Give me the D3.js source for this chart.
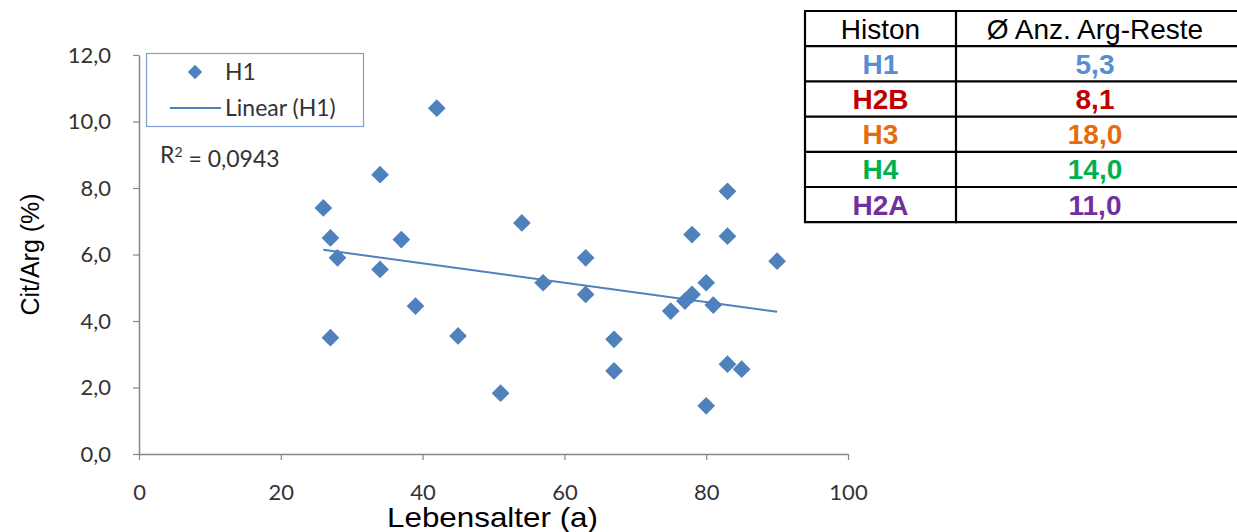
<!DOCTYPE html>
<html>
<head>
<meta charset="utf-8">
<script src="https://cdn.jsdelivr.net/npm/d3@7"></script>
<style>
	body { margin: 0; background: #fff; }
	svg { display: block; }
</style>
</head>
<body>
<div id="chart"></div>
<script>
// H1 scatter: age (a) vs Cit/Arg (%)
let ages = [26, 27, 28, 27, 34, 34, 37, 39, 42, 45, 51, 54, 57, 63, 63, 67, 67, 75, 77, 78, 78, 80, 81, 83, 83, 83, 85, 80, 90];
let citArg = [7.4, 6.5, 5.9, 3.5, 8.4, 5.55, 6.45, 4.45, 10.4, 3.55, 1.83, 6.95, 5.15, 5.9, 4.8, 3.45, 2.5, 4.3, 4.6, 4.8, 6.6, 5.15, 4.48, 7.9, 6.55, 2.7, 2.55, 1.45, 5.8];
let xTicks = [0, 20, 40, 60, 80, 100];
let yTicks = [0, 2, 4, 6, 8, 10, 12];
let rSquaredLabel = "0,0943";

// table
let tableHeader = ["Histon", "Ø Anz. Arg-Reste"];
let histones = ["H1", "H2B", "H3", "H4", "H2A"];
let argCounts = ["5,3", "8,1", "18,0", "14,0", "11,0"];
let histColors = ["#558ED5", "#C00000", "#E46C0A", "#00B050", "#7030A0"];

const width = 1237, height = 532;
const blue = "#4F81BD";
const axisGray = "#868686";
const chartFont = "Lato, 'Open Sans', sans-serif";
const arial = "'Liberation Sans', Arial, sans-serif";

const svg = d3.select("#chart").append("svg")
	.attr("width", width)
	.attr("height", height);

let x = d3.scaleLinear().domain([0, 100]).range([139, 848]);
let y = d3.scaleLinear().domain([0, 12]).range([454, 55]);
let fmt = d => d3.format(".1f")(d).replace(".", ",");

// axes
let xAxis = svg.append("g")
	.attr("transform", `translate(0,${y(0)})`)
	.call(d3.axisBottom(x).tickValues(xTicks).tickSize(6).tickSizeOuter(0));
let yAxis = svg.append("g")
	.attr("transform", `translate(${x(0)},0)`)
	.call(d3.axisLeft(y).tickValues(yTicks).tickSize(6).tickSizeOuter(0).tickPadding(22).tickFormat(fmt));

[xAxis, yAxis].forEach(a => {
	a.select(".domain").attr("stroke", axisGray).attr("stroke-width", 1.5);
	a.selectAll(".tick line").attr("stroke", axisGray).attr("stroke-width", 1.2);
	a.selectAll(".tick text")
		.attr("fill", "#333")
		.style("font-family", chartFont)
		.style("font-size", "22px");
});
xAxis.selectAll(".tick text").attr("y", 38).attr("dy", "0.35em");

// axis titles
svg.append("text")
	.attr("transform", `translate(30,${(y(0) + y(12)) / 2}) rotate(-90)`)
	.attr("text-anchor", "middle")
	.attr("dy", "0.35em")
	.style("font-family", arial)
	.style("font-size", "25px")
	.text("Cit/Arg (%)");

svg.append("text")
	.attr("x", 387)
	.attr("y", 527)
	.attr("textLength", 211)
	.attr("lengthAdjust", "spacingAndGlyphs")
	.style("font-family", arial)
	.style("font-size", "28px")
	.text("Lebensalter (a)");

// linear trend computed from the data
let mx = d3.mean(ages), my = d3.mean(citArg);
let sxy = d3.sum(ages, (a, i) => (a - mx) * (citArg[i] - my));
let sxx = d3.sum(ages, a => (a - mx) * (a - mx));
let slope = sxy / sxx;
let intercept = my - slope * mx;
let xMin = d3.min(ages), xMax = d3.max(ages);

// points
svg.append("g")
	.selectAll("path")
	.data(ages)
	.join("path")
	.attr("transform", (d, i) => `translate(${x(d)},${y(citArg[i])})`)
	.attr("d", d3.symbol().type(d3.symbolDiamond2).size(200)())
	.attr("fill", blue);

svg.append("line")
	.attr("x1", x(xMin)).attr("y1", y(intercept + slope * xMin))
	.attr("x2", x(xMax)).attr("y2", y(intercept + slope * xMax))
	.attr("stroke", blue)
	.attr("stroke-width", 2);

// legend
let legend = svg.append("g");
legend.append("rect")
	.attr("x", 146.5).attr("y", 53.5)
	.attr("width", 217).attr("height", 73)
	.attr("fill", "#fff")
	.attr("stroke", "#7F9FD0")
	.attr("stroke-width", 1.2);
legend.append("path")
	.attr("transform", "translate(195,72)")
	.attr("d", d3.symbol().type(d3.symbolDiamond2).size(130)())
	.attr("fill", blue);
legend.append("line")
	.attr("x1", 170).attr("x2", 221)
	.attr("y1", 108).attr("y2", 108)
	.attr("stroke", blue).attr("stroke-width", 2);
legend.append("text")
	.attr("x", 225).attr("y", 72).attr("dy", "0.35em")
	.style("font-family", chartFont).style("font-size", "23px").attr("fill", "#333")
	.text("H1");
legend.append("text")
	.attr("x", 225).attr("y", 108).attr("dy", "0.35em")
	.style("font-family", chartFont).style("font-size", "23px").attr("fill", "#333")
	.text("Linear (H1)");

let r2 = svg.append("text")
	.attr("x", 160).attr("y", 155).attr("dy", "0.35em")
	.style("font-family", chartFont).style("font-size", "23px").attr("fill", "#333");
r2.append("tspan").text("R");
r2.append("tspan").attr("dy", "-0.4em").style("font-size", "14px").text("2");
r2.append("tspan").attr("dy", "0.4em").text(" = " + rSquaredLabel);

// table
let tLeft = 805, tMid = 956, tRight = 1238, tTop = 11, rowH = 35.2;
let rows = [tableHeader].concat(histones.map((h, i) => [h, argCounts[i]]));
let table = svg.append("g");
table.append("rect")
	.attr("x", tLeft).attr("y", tTop)
	.attr("width", tRight - tLeft).attr("height", rowH * rows.length)
	.attr("fill", "#fff");
rows.forEach((r, i) => {
	let cy = tTop + rowH * i + rowH / 2;
	let isHead = i === 0;
	[[r[0], (tLeft + tMid) / 2], [r[1], (tMid + tRight) / 2 - 2]].forEach(([txt, cx]) => {
		table.append("text")
			.attr("x", cx).attr("y", cy).attr("dy", "0.36em")
			.attr("text-anchor", "middle")
			.style("font-family", arial)
			.style("font-size", "28px")
			.style("font-weight", isHead ? "normal" : "bold")
			.attr("fill", isHead ? "#000" : histColors[i - 1])
			.text(txt);
	});
});
d3.range(rows.length + 1).forEach(i => {
	table.append("line")
		.attr("x1", tLeft).attr("x2", tRight)
		.attr("y1", tTop + rowH * i).attr("y2", tTop + rowH * i)
		.attr("stroke", "#000").attr("stroke-width", 2.2);
});
[tLeft, tMid].forEach(xx => {
	table.append("line")
		.attr("x1", xx).attr("x2", xx)
		.attr("y1", tTop - 1).attr("y2", tTop + rowH * rows.length + 1)
		.attr("stroke", "#000").attr("stroke-width", 2.2);
});
</script>
</body>
</html>
